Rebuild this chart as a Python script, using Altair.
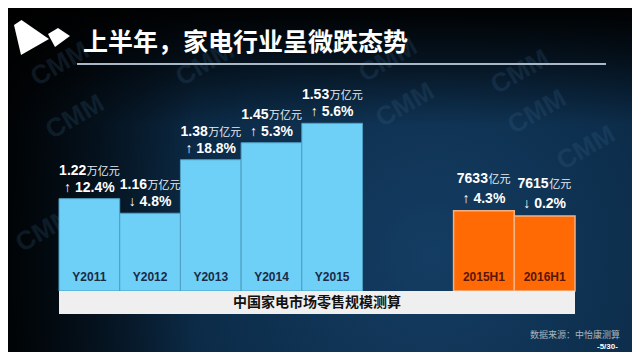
import altair as alt
import pandas as pd

# ---- data ----
years = ["Y2011", "Y2012", "Y2013", "Y2014", "Y2015"]
year_vals = [1.22, 1.16, 1.38, 1.45, 1.53]          # 万亿元
year_chg = [12.4, -4.8, 18.8, 5.3, 5.6]              # %
halves = ["2015H1", "2016H1"]
half_vals = [7633, 7615]                             # 亿元
half_chg = [4.3, -0.2]                               # %

title_text = "上半年，家电行业呈微跌态势"
band_text = "中国家电市场零售规模测算"
source_text = "数据来源：中怡康测算"
page_text = "-5/30-"

W, H = 624, 344
NUM_FONT = "Liberation Sans"
CJK = "Noto Sans CJK SC"


def arrow(v):
    return ("↑ " if v >= 0 else "↓ ") + f"{abs(v):.1f}%"


gap = 1.5
YR_BASE, HF_BASE = 0.84, 7360

yr = pd.DataFrame({
    "cat": years,
    "val": year_vals,
    "x0": [i for i in range(len(years))],
    "num": [f"{v:.2f}" for v in year_vals],
    "pct": [arrow(c) for c in year_chg],
})
yr["x1"] = yr["x0"] + 1
yr["mid"] = yr["x0"] + 0.5
yr["base"] = YR_BASE

hf = pd.DataFrame({
    "cat": halves,
    "val": half_vals,
    "x0": [len(years) + gap + i for i in range(len(halves))],
    "num": [f"{v}" for v in half_vals],
    "pct": [arrow(c) for c in half_chg],
})
hf["x1"] = hf["x0"] + 1
hf["mid"] = hf["x0"] + 0.5
hf["base"] = HF_BASE

xmax = len(years) + gap + len(halves)
band = pd.DataFrame({"x0": [0], "x1": [xmax], "mid": [xmax / 2]})

xs = alt.Scale(domain=[0, xmax], range=[51, 567])
ys_yr = alt.Scale(domain=[YR_BASE, 1.53], range=[283, 115.3], nice=False, zero=False)
ys_hf = alt.Scale(domain=[HF_BASE, 7633], range=[283, 202.7], nice=False, zero=False)

one = pd.DataFrame({"d": [0]})

# ---- background ----
bg = alt.Chart(one).mark_rect(
    color=alt.RadialGradient(
        gradient="radial", x1=0.68, y1=0.62, r1=0, x2=0.68, y2=0.62, r2=0.85,
        stops=[alt.GradientStop(color="#143d63", offset=0),
               alt.GradientStop(color="#0c2c49", offset=0.45),
               alt.GradientStop(color="#061828", offset=0.8),
               alt.GradientStop(color="#020509", offset=1)])
).encode(x=alt.value(0), x2=alt.value(W), y=alt.value(0), y2=alt.value(H))

top_shade = alt.Chart(one).mark_rect(
    color=alt.LinearGradient(
        gradient="linear", x1=0, y1=0, x2=0, y2=1,
        stops=[alt.GradientStop(color="rgba(0,0,0,0.97)", offset=0),
               alt.GradientStop(color="rgba(0,0,0,0.65)", offset=0.13),
               alt.GradientStop(color="rgba(0,0,0,0)", offset=0.34)])
).encode(x=alt.value(0), x2=alt.value(W), y=alt.value(0), y2=alt.value(H))

left_shade = alt.Chart(one).mark_rect(
    color=alt.LinearGradient(
        gradient="linear", x1=0, y1=0, x2=1, y2=0,
        stops=[alt.GradientStop(color="rgba(0,0,0,0.85)", offset=0),
               alt.GradientStop(color="rgba(0,0,0,0)", offset=0.3)])
).encode(x=alt.value(0), x2=alt.value(W), y=alt.value(0), y2=alt.value(H))

marks = [bg, top_shade, left_shade]

# watermarks
for (wx, wy) in [(52, 56), (197, 56), (380, 52), (512, 64), (67, 109),
                 (397, 97), (529, 104), (37, 222), (578, 140)]:
    marks.append(alt.Chart(one).mark_text(
        text="CMM", font="Liberation Sans", fontWeight="bold", fontSize=26,
        angle=330, color="#3d6a90", opacity=0.2
    ).encode(x=alt.value(wx), y=alt.value(wy)))

# logo
marks.append(alt.Chart(one).mark_point(
    shape="M-1,-0.714 L-0.571,-1 L1,0.086 L-0.6,1 Z", size=1225,
    filled=True, color="white", opacity=1
).encode(x=alt.value(23.5), y=alt.value(29.5)))
marks.append(alt.Chart(one).mark_point(
    shape="M-1,-0.318 L-0.091,-0.864 L1,-0.136 L-0.364,0.864 Z", size=484,
    filled=True, color="white", opacity=1
).encode(x=alt.value(51), y=alt.value(29.5)))

# title + underline
marks.append(alt.Chart(one).mark_text(
    text=title_text, font=CJK, fontWeight="bold", fontSize=25, color="white",
    align="left", baseline="alphabetic"
).encode(x=alt.value(75), y=alt.value(43)))
marks.append(alt.Chart(one).mark_rule(color="#a9b7c6", strokeWidth=2).encode(
    x=alt.value(69), x2=alt.value(598), y=alt.value(56)))

# bars
marks.append(alt.Chart(yr).mark_rect(color="#6ed0f6", stroke="#4f9fc4", strokeWidth=1).encode(
    x=alt.X("x0:Q", scale=xs, axis=None), x2="x1:Q",
    y=alt.Y("val:Q", scale=ys_yr, axis=None), y2="base:Q"))
marks.append(alt.Chart(hf).mark_rect(color="#ff6a04", stroke="#f3b083", strokeWidth=1.5).encode(
    x=alt.X("x0:Q", scale=xs, axis=None), x2="x1:Q",
    y=alt.Y("val:Q", scale=ys_hf, axis=None), y2="base:Q"))

# band
marks.append(alt.Chart(band).mark_rect(color="#efefef").encode(
    x=alt.X("x0:Q", scale=xs, axis=None), x2="x1:Q", y=alt.value(283), y2=alt.value(306)))
marks.append(alt.Chart(band).mark_text(
    text=band_text, font=CJK, fontWeight="bold", fontSize=14, color="#111111",
    baseline="middle"
).encode(x=alt.X("mid:Q", scale=xs, axis=None), y=alt.value(295)))

# category labels inside bars
marks.append(alt.Chart(yr).mark_text(
    font="Liberation Sans", fontWeight="bold", fontSize=12, color="#1b2b47", baseline="middle"
).encode(x=alt.X("mid:Q", scale=xs, axis=None), y=alt.value(269), text="cat:N"))
marks.append(alt.Chart(hf).mark_text(
    font="Liberation Sans", fontWeight="bold", fontSize=12, color="#5a1606", baseline="middle"
).encode(x=alt.X("mid:Q", scale=xs, axis=None), y=alt.value(269), text="cat:N"))


# value labels
def labels(df, ys, unit, split, d_num, d_pct):
    enc = dict(x=alt.X("mid:Q", scale=xs, axis=None), y=alt.Y("val:Q", scale=ys, axis=None))
    a = alt.Chart(df).mark_text(font=NUM_FONT, fontWeight="bold", fontSize=14, color="white",
                                align="right", baseline="alphabetic", dx=split, dy=d_num
                                ).encode(text="num:N", **enc)
    b = alt.Chart(df).mark_text(text=unit, font=CJK, fontSize=11, color="#e8eef4",
                                align="left", baseline="alphabetic", dx=split + 0.5, dy=d_num
                                ).encode(**enc)
    c = alt.Chart(df).mark_text(font=NUM_FONT, fontWeight="bold", fontSize=14, color="white",
                                align="center", baseline="alphabetic", dy=d_pct
                                ).encode(text="pct:N", **enc)
    return [a, b, c]


marks += labels(yr, ys_yr, "万亿元", -3, -24, -7)
marks += labels(hf, ys_hf, "亿元", 4, -28, -8)

# footer
marks.append(alt.Chart(one).mark_text(
    text=source_text, font=CJK, fontSize=9, color="#aab4be", align="left", baseline="middle"
).encode(x=alt.value(522), y=alt.value(327)))
marks.append(alt.Chart(one).mark_text(
    text=page_text, font="Liberation Sans", fontWeight="bold", fontSize=8, color="white",
    align="left", baseline="middle"
).encode(x=alt.value(589), y=alt.value(339)))

chart = alt.layer(*marks).resolve_scale(y="independent").properties(
    width=W, height=H, padding=0, background="#000000",
    autosize=alt.AutoSizeParams(type="none")
).configure_view(stroke=None)

chart.save("out.html", embed_options={"renderer": "svg", "actions": False})
